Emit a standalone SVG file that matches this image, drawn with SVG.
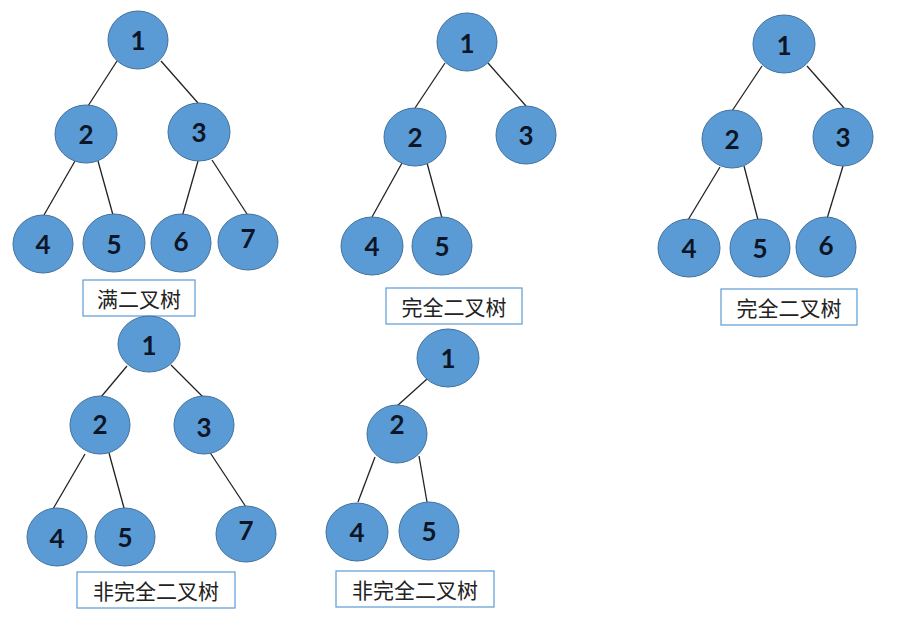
<svg xmlns="http://www.w3.org/2000/svg" width="921" height="621" viewBox="0 0 921 621">
<style>
.n ellipse{fill:#5B9BD5;stroke:#41719C;stroke-width:1}
.n text{font-family:Lato,"Open Sans","Liberation Sans",sans-serif;font-size:26px;font-weight:bold;fill:#0d1626;text-anchor:middle;dominant-baseline:central}
.e line{stroke:#222;stroke-width:1.3}
.lb rect{fill:#fff;stroke:#5B9BD5;stroke-width:1.2}
.lb text{font-family:"Noto Sans CJK SC",sans-serif;font-size:21px;fill:#222;text-anchor:middle;dominant-baseline:central}
</style>
<rect width="921" height="621" fill="#fff"/>
<g id="connectors" class="e">
<line x1="117" y1="61" x2="88" y2="106"/>
<line x1="161" y1="61" x2="198" y2="103"/>
<line x1="75" y1="161" x2="44" y2="215"/>
<line x1="98" y1="161" x2="113" y2="215"/>
<line x1="198" y1="161" x2="182" y2="217"/>
<line x1="212" y1="160" x2="247" y2="214"/>
<line x1="445" y1="63" x2="415" y2="108"/>
<line x1="488" y1="63" x2="526" y2="106"/>
<line x1="402" y1="163" x2="372" y2="217"/>
<line x1="427" y1="163" x2="442" y2="218"/>
<line x1="762" y1="66" x2="732" y2="111"/>
<line x1="807" y1="66" x2="844" y2="108"/>
<line x1="720" y1="167" x2="688" y2="220"/>
<line x1="744" y1="166" x2="758" y2="220"/>
<line x1="843" y1="166" x2="826" y2="222"/>
<line x1="127" y1="366" x2="101" y2="397"/>
<line x1="171" y1="365" x2="203" y2="397"/>
<line x1="85" y1="454" x2="53" y2="509"/>
<line x1="109" y1="453" x2="124" y2="508"/>
<line x1="209" y1="451" x2="246" y2="507"/>
<line x1="427" y1="379" x2="397" y2="406"/>
<line x1="375" y1="457" x2="358" y2="502"/>
<line x1="419" y1="456" x2="427" y2="502"/>
</g>
<g id="t1-n1" class="n"><ellipse cx="138" cy="40" rx="30" ry="29"/><text x="138" y="40">1</text></g>
<g id="t1-n2" class="n"><ellipse cx="86" cy="134" rx="31" ry="29"/><text x="86" y="134">2</text></g>
<g id="t1-n3" class="n"><ellipse cx="199" cy="132" rx="31" ry="29"/><text x="199" y="132">3</text></g>
<g id="t1-n4" class="n"><ellipse cx="43" cy="244" rx="30" ry="29"/><text x="43" y="244">4</text></g>
<g id="t1-n5" class="n"><ellipse cx="114" cy="243" rx="31" ry="29"/><text x="114" y="244">5</text></g>
<g id="t1-n6" class="n"><ellipse cx="181" cy="243" rx="30" ry="29"/><text x="181" y="241">6</text></g>
<g id="t1-n7" class="n"><ellipse cx="248" cy="242" rx="30" ry="28"/><text x="248" y="238">7</text></g>
<g id="t1-label" class="lb"><rect x="83" y="280" width="112" height="36"/><text x="139" y="298">满二叉树</text></g>

<g id="t2-n1" class="n"><ellipse cx="467" cy="42" rx="30" ry="29"/><text x="467" y="43">1</text></g>
<g id="t2-n2" class="n"><ellipse cx="415" cy="137" rx="31" ry="29"/><text x="415" y="137">2</text></g>
<g id="t2-n3" class="n"><ellipse cx="526" cy="135" rx="30" ry="29"/><text x="526" y="135">3</text></g>
<g id="t2-n4" class="n"><ellipse cx="372" cy="246" rx="31" ry="29"/><text x="372" y="246">4</text></g>
<g id="t2-n5" class="n"><ellipse cx="442" cy="246" rx="30" ry="29"/><text x="442" y="246">5</text></g>
<g id="t2-label" class="lb"><rect x="386" y="288" width="136" height="36"/><text x="454" y="306">完全二叉树</text></g>

<g id="t3-n1" class="n"><ellipse cx="784" cy="44" rx="31" ry="29"/><text x="784" y="45">1</text></g>
<g id="t3-n2" class="n"><ellipse cx="732" cy="139" rx="30" ry="29"/><text x="732" y="139">2</text></g>
<g id="t3-n3" class="n"><ellipse cx="843" cy="137" rx="30" ry="29"/><text x="843" y="137">3</text></g>
<g id="t3-n4" class="n"><ellipse cx="689" cy="248" rx="31" ry="29"/><text x="689" y="248">4</text></g>
<g id="t3-n5" class="n"><ellipse cx="760" cy="248" rx="30" ry="29"/><text x="760" y="248">5</text></g>
<g id="t3-n6" class="n"><ellipse cx="826" cy="247" rx="30" ry="30"/><text x="826" y="245">6</text></g>
<g id="t3-label" class="lb"><rect x="721" y="289" width="136" height="36"/><text x="789" y="307">完全二叉树</text></g>

<g id="t4-n1" class="n"><ellipse cx="149" cy="344" rx="31" ry="28"/><text x="149" y="345">1</text></g>
<g id="t4-n2" class="n"><ellipse cx="100" cy="425" rx="30" ry="29"/><text x="100" y="424">2</text></g>
<g id="t4-n3" class="n"><ellipse cx="204" cy="425" rx="30" ry="29"/><text x="204" y="427">3</text></g>
<g id="t4-n4" class="n"><ellipse cx="57" cy="537" rx="30" ry="29"/><text x="57" y="538">4</text></g>
<g id="t4-n5" class="n"><ellipse cx="125" cy="537" rx="30" ry="29"/><text x="125" y="537">5</text></g>
<g id="t4-n7" class="n"><ellipse cx="246" cy="534" rx="30" ry="28"/><text x="246" y="530">7</text></g>
<g id="t4-label" class="lb"><rect x="77" y="572" width="158" height="36"/><text x="156" y="590">非完全二叉树</text></g>

<g id="t5-n1" class="n"><ellipse cx="448" cy="358" rx="31" ry="29"/><text x="448" y="358">1</text></g>
<g id="t5-n2" class="n"><ellipse cx="397" cy="434" rx="30" ry="29"/><text x="397" y="424">2</text></g>
<g id="t5-n4" class="n"><ellipse cx="357" cy="532" rx="31" ry="29"/><text x="357" y="532">4</text></g>
<g id="t5-n5" class="n"><ellipse cx="429" cy="531" rx="30" ry="29"/><text x="429" y="531">5</text></g>
<g id="t5-label" class="lb"><rect x="336" y="571" width="158" height="36"/><text x="415" y="589">非完全二叉树</text></g>
</svg>
